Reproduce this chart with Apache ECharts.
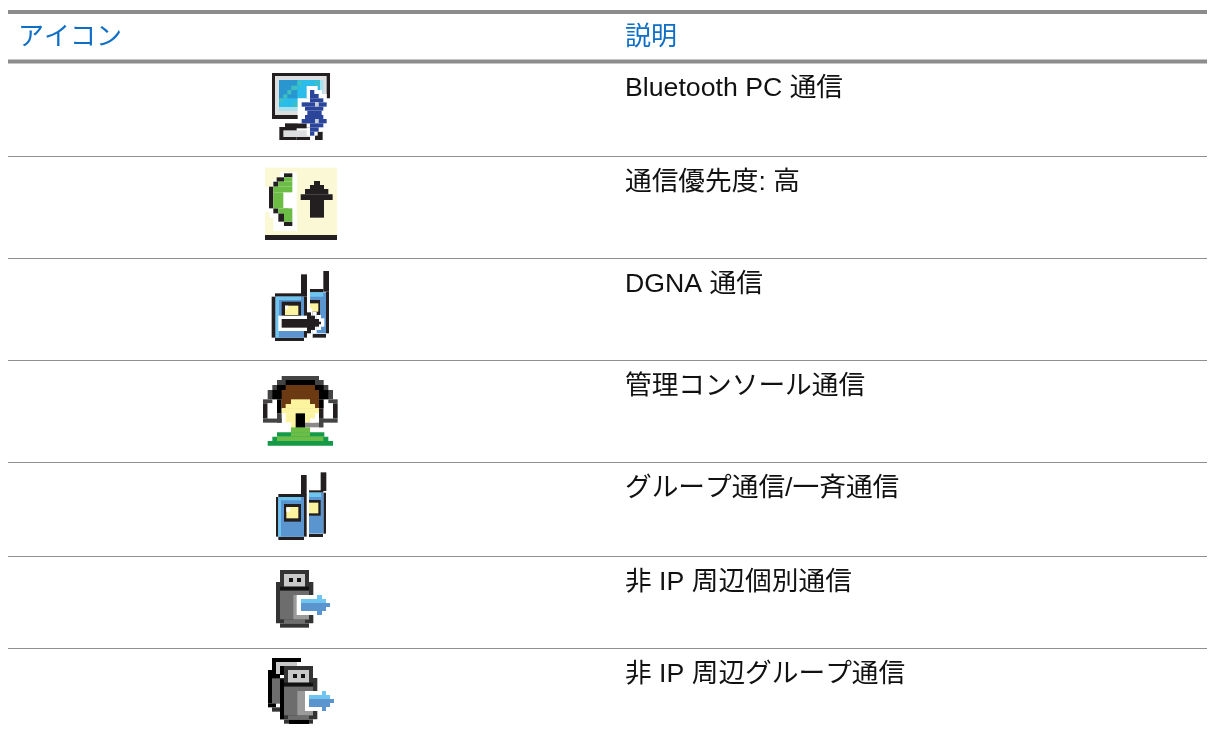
<!DOCTYPE html>
<html><head><meta charset="utf-8">
<style>html,body{margin:0;padding:0;background:#fff}#c{width:1215px;height:734px}</style>
<script src="https://cdn.jsdelivr.net/npm/echarts@6/dist/echarts.min.js"></script>
</head><body><div id="c"></div>
<script>
const headers = ['アイコン','説明'];
const descriptions = ['Bluetooth PC 通信','通信優先度: 高','DGNA 通信','管理コンソール通信','グループ通信/一斉通信','非 IP 周辺個別通信','非 IP 周辺グループ通信'];
const rowTextY = [89,183,285,387,489,583,675];
const ruleY = [156,258,360,462,556,648];

const K='#231f20',G='#333333',W='#ffffff',B='#5b95d0',LB='#6ec6f0',Y='#fdf4a0',BT='#2b459b',T='#3fc0c0';
const icons = [
 {o:[260,65],r:[
  [36,24,210,162,K],[45,33,200,150,'#dcdedf'],[57,45,190,138,'#a9e0ee'],[57,45,180,126,'#2bbde9'],
  [57,45,112,100,'#2a96cf'],[57,100,70,112,T],[70,88,82,100,T],[82,75,94,88,T],[94,62,112,75,T],[112,48,125,62,T],[165,48,178,62,T],
  [100,112,115,125,T],
  [58,186,110,225,K],[75,175,150,190,K],[70,196,150,216,'#dcdedf'],[110,216,150,225,K],
  [165,200,188,225,K],
  [140,63,173,75,W],[140,75,186,87,W],[140,87,200,100,W],[113,100,212,175,W],[140,175,200,187,W],[140,187,186,200,W],[140,200,173,212,W],
  [150,75,163,87,BT],[150,87,176,100,BT],[150,100,190,112,BT],[125,112,165,125,BT],[165,112,176,125,'#c5ced6'],[176,112,200,125,BT],
  [135,125,190,137,BT],[142,137,185,150,BT],[135,150,190,162,BT],[125,162,165,175,BT],[165,162,176,175,'#c5ced6'],[176,162,200,175,BT],
  [150,175,190,187,BT],[150,187,176,200,BT],[150,200,163,212,BT]
 ]},
 {o:[260,65],r:[
  [15,308,231,510,'#fbf8d5'],[15,510,231,525,K],
  [60,322,110,345,W],[38,345,110,365,W],[15,365,80,440,W],[28,440,70,458,W],[40,458,110,498,W],[85,345,110,498,W],[70,380,100,430,W],
  [72,325,97,337,K],[50,337,72,350,K],[40,350,55,365,K],[27,365,40,430,K],[40,430,55,445,K],[55,445,72,470,K],[72,470,97,483,K],
  [72,337,97,350,'#6cbd45'],[55,350,97,365,'#6cbd45'],[40,365,97,382,'#6cbd45'],[40,382,70,430,'#6cbd45'],[55,430,85,445,'#6cbd45'],[72,430,97,470,'#6cbd45'],
  [162,348,180,360,K],[150,360,192,372,K],[135,372,205,388,K],[122,388,218,405,K],[150,405,192,458,K]
 ]},
 {o:[255,265],r:[
  [138,28,156,90,K],[205,18,222,80,K],
  [165,72,205,82,K],[213,80,222,205,K],[165,82,213,205,B],[165,82,205,95,LB],[165,105,195,150,K],[165,115,190,140,Y],[173,207,213,218,K],
  [60,85,156,95,K],[50,95,62,218,K],[60,218,147,228,K],[147,95,156,218,K],[62,95,147,218,B],[62,95,138,105,LB],[62,105,72,218,LB],
  [80,110,138,165,K],[90,122,130,150,Y],[90,122,100,132,W],
  [70,152,156,198,W],[156,130,172,210,W],[172,140,185,205,W],[185,150,198,195,W],[198,160,208,185,W],
  [80,162,160,188,K],[156,142,168,205,K],[168,152,180,195,K],[180,162,192,185,K],[192,170,198,178,K]
 ]},
 {o:[255,265],r:[
  [80,333,192,345,'#444444'],[66,345,206,360,'#444444'],[52,360,220,375,'#444444'],[38,375,234,403,'#444444'],[24,403,52,415,'#444444'],[220,403,248,415,'#444444'],
  [24,415,38,460,K],[234,415,248,460,K],[24,460,80,473,'#444444'],[192,460,248,473,'#444444'],[66,445,80,473,'#444444'],[192,430,206,460,K],
  [38,415,66,460,W],[206,415,234,460,W],
  [92,345,180,360,'#000000'],[66,360,206,375,'#000000'],[52,375,220,403,'#000000'],[66,403,80,445,'#000000'],[192,403,206,430,'#000000'],
  [92,360,180,375,'#6b3a12'],[80,375,192,430,'#6b3a12'],
  [108,403,165,417,Y],[92,417,180,430,Y],[80,430,192,445,Y],[92,445,180,472,Y],[108,472,150,487,Y],
  [122,445,150,490,'#000000'],[150,473,205,487,'#8a8a8a'],[165,460,180,473,W],[192,460,205,487,'#444444'],
  [108,487,165,502,'#6cbd45'],[66,502,208,515,'#159a48'],[108,502,165,515,'#6cbd45'],[52,515,220,528,'#159a48'],[66,515,205,528,'#6cbd45'],[38,528,234,542,'#159a48']
 ]},
 {o:[255,465],r:[
  [138,30,155,88,K],[197,22,214,78,K],
  [162,76,205,83,K],[205,83,213,206,K],[162,83,205,206,B],[162,83,198,96,LB],[162,105,197,152,K],[162,113,190,145,Y],[162,207,204,216,K],
  [70,87,155,96,K],[63,96,70,215,K],[70,215,147,225,K],[147,96,155,215,K],[70,96,147,215,B],[70,96,138,106,LB],[70,106,78,215,LB],
  [87,117,138,170,K],[94,126,130,160,Y],[94,128,105,140,W]
 ]}
];
function usb(dx,dy){return [
  [75,30,162,42,G],[75,42,87,66,G],[150,42,162,66,G],[63,66,175,190,G],[75,190,162,203,G],
  [87,42,150,80,'#c8c8c8'],[102,54,114,66,'#111111'],[126,54,138,66,'#111111'],[75,80,162,92,'#111111'],
  [75,92,162,178,'#6d6d6d'],[87,178,150,190,'#6d6d6d'],[115,105,162,178,'#9a9a9a']
].map(a=>[a[0]+dx,a[1]+dy,a[2]+dx,a[3]+dy,a[4]]);}
const arrow6=[[125,105,186,165,W],[138,117,213,129,LB],[186,105,201,117,LB],[138,129,213,153,B],[213,129,225,141,B],[186,153,201,165,B]];
const arrow7=[[150,393,198,453,W],[162,405,225,417,LB],[201,393,213,405,LB],[162,417,225,441,B],[225,417,237,429,B],[201,441,213,453,B]];
icons.push({o:[255,560],r:[...usb(0,0),...arrow6]});
icons.push({o:[255,560],r:[
  [51,294,138,306,'#000000'],[51,306,63,330,'#000000'],[39,330,75,430,'#000000'],[39,430,63,442,'#000000'],[51,442,75,455,G],[63,306,126,318,'#c8c8c8'],[63,318,75,342,'#c8c8c8'],[75,318,138,330,'#000000'],
  [51,355,75,430,'#6d6d6d'],[75,330,100,345,'#000000'],
  ...usb(12,288),[75,358,87,478,'#000000'],[102,480,162,492,'#000000'],...arrow7
]});

const graphic=[];
const rule=(y,h,c)=>graphic.push({type:'rect',silent:true,shape:{x:8,y:y,width:1199,height:h},style:{fill:c}});
rule(10,4,'#8c8c8c');rule(59.5,4,'#8c8c8c');
ruleY.forEach(y=>rule(y,1,'#8f8f8f'));
const font='"Liberation Sans","Noto Sans CJK JP",sans-serif';
const txt=(s,x,y,c,size)=>graphic.push({type:'text',x:x,y:y,style:{text:s,fill:c,font:size+'px '+font,textBaseline:'middle',textVerticalAlign:'middle'}});
txt(headers[0],18,38,'#0f6fc6',26);txt(headers[1],625,38,'#0f6fc6',26);
descriptions.forEach((d,i)=>txt(d,625,rowTextY[i],'#111111',26.7));
icons.forEach(ic=>ic.r.forEach(a=>graphic.push({type:'rect',silent:true,shape:{x:ic.o[0]+a[0]/3,y:ic.o[1]+a[1]/3,width:(a[2]-a[0])/3,height:(a[3]-a[1])/3},style:{fill:a[4]}})));

const chart=echarts.init(document.getElementById('c'));
chart.setOption({animation:false,backgroundColor:'#fff',graphic:{elements:graphic}});
</script></body></html>
